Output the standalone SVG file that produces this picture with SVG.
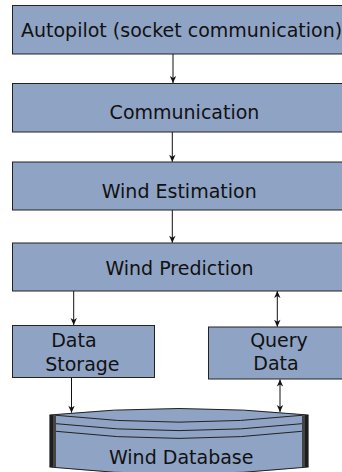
<svg xmlns="http://www.w3.org/2000/svg" width="342" height="472" viewBox="0 0 342 472">
<style>
.box{fill:#8fa3c4;stroke:#222;stroke-width:1}
.lbl{font-family:"DejaVu Sans",sans-serif;font-size:19px;fill:#111;text-anchor:middle}
.edge{stroke:#111;stroke-width:1;fill:none}
.arc{stroke:#222;stroke-width:1;fill:none}
</style>
<defs>
<marker id="ah" viewBox="-8 -4 9 8" refX="0" refY="0" markerWidth="9" markerHeight="8" markerUnits="userSpaceOnUse" orient="auto-start-reverse">
<path d="M0,0 L-7,-3.2 L-5,0 L-7,3.2 Z" fill="#111"/>
</marker>
</defs>
<g id="autopilot">
<rect class="box" x="12.5" y="5.5" width="350" height="48.5"/>
<text class="lbl" x="21" y="37.3" style="text-anchor:start">Autopilot (socket communication)</text>
</g>
<g id="communication">
<rect class="box" x="12.5" y="83.5" width="350" height="48.5"/>
<text class="lbl" x="184.5" y="119.3">Communication</text>
</g>
<g id="wind-estimation">
<rect class="box" x="12.5" y="162" width="350" height="48"/>
<text class="lbl" x="179.2" y="198.3">Wind Estimation</text>
</g>
<g id="wind-prediction">
<rect class="box" x="12.5" y="243" width="350" height="48"/>
<text class="lbl" x="179.5" y="275">Wind Prediction</text>
</g>
<g id="data-storage">
<rect class="box" x="12.5" y="325.5" width="142" height="52"/>
<text class="lbl" x="73.9" y="346.7">Data</text>
<text class="lbl" x="82.4" y="370.7">Storage</text>
</g>
<g id="query-data">
<rect class="box" x="208.5" y="327" width="150" height="52"/>
<text class="lbl" x="279" y="347">Query</text>
<text class="lbl" x="276" y="370">Data</text>
</g>
<g id="wind-database">
<path d="M49.5,415 Q179,402 308.5,415 L308.5,467 Q179,481 49.5,467 Z" fill="#8fa3c4"/>
<path class="arc" d="M49.5,415 Q179,402 308.5,415"/>
<path class="arc" d="M49.5,467 Q179,481 308.5,467"/>
<path class="arc" d="M56,415.3 Q179,429 302,415.3"/>
<path class="arc" d="M56,423.7 Q179,437.5 302,423.7"/>
<path class="arc" d="M56,431.3 Q179,445.5 302,431.3"/>
<rect x="49.5" y="415" width="3.5" height="52" fill="#1e1e1e"/>
<rect x="53" y="415" width="3" height="52" fill="#444"/>
<rect x="302" y="415" width="3" height="52" fill="#444"/>
<rect x="305" y="415" width="3.5" height="52" fill="#1e1e1e"/>
<text class="lbl" x="181.2" y="464.3">Wind Database</text>
</g>
<g id="connectors">
<line class="edge" x1="173" y1="54" x2="173" y2="83" marker-end="url(#ah)"/>
<line class="edge" x1="172.3" y1="132" x2="172.3" y2="161.7" marker-end="url(#ah)"/>
<line class="edge" x1="172.3" y1="210" x2="172.3" y2="242.7" marker-end="url(#ah)"/>
<line class="edge" x1="73.7" y1="291" x2="73.7" y2="325" marker-end="url(#ah)"/>
<line class="edge" x1="277.3" y1="291" x2="277.3" y2="326.7" marker-start="url(#ah)" marker-end="url(#ah)"/>
<line class="edge" x1="71.5" y1="378" x2="71.5" y2="412.7" marker-end="url(#ah)"/>
<line class="edge" x1="280" y1="379.5" x2="280" y2="412" marker-start="url(#ah)" marker-end="url(#ah)"/>
</g>
</svg>
